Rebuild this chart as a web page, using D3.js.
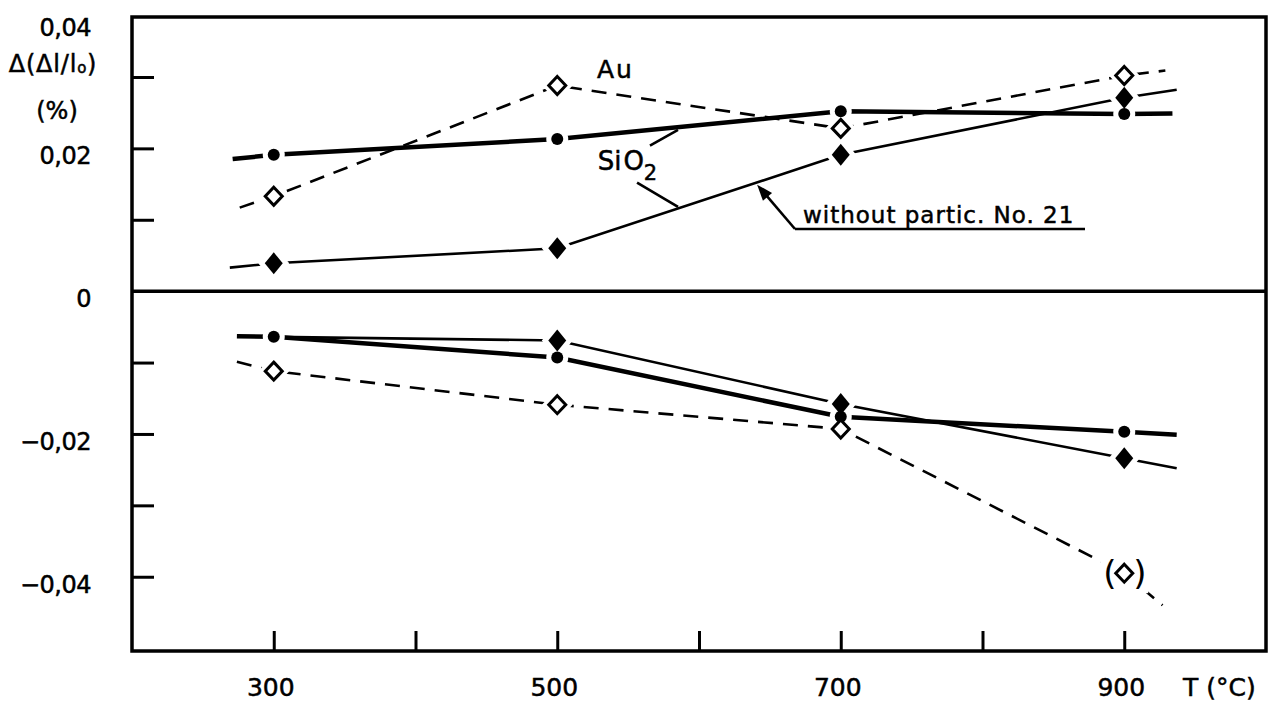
<!DOCTYPE html>
<html>
<head>
<meta charset="utf-8">
<script src="https://cdn.jsdelivr.net/npm/d3@7"></script>
<style>
  body { margin: 0; background: #fff; }
  svg { display: block; }
  text { font-family: "DejaVu Sans", sans-serif; fill: #000; stroke: #000; stroke-width: 0.5px; }
</style>
</head>
<body>
<svg id="chart" width="1274" height="705"></svg>
<script>
// Annealing temperatures (°C)
const temps = [300, 500, 700, 900];

// Δ(Δl/l0) in % — upper group (positive) and lower group (negative)
const sio2Upper    = [0.0191, 0.0213, 0.0252, 0.0248];   // filled circles, heavy line
const auUpper      = [0.0133, 0.0288, 0.0228, 0.0302];   // open diamonds, dashed
const noPartUpper  = [0.0039, 0.0060, 0.0191, 0.0271];   // filled diamonds, thin line

const sio2Lower    = [-0.0064, -0.0093, -0.0176, -0.0197];
const noPartLower  = [-0.0064, -0.0069, -0.0158, -0.0234];
const auLower      = [-0.0112, -0.0159, -0.0193, -0.0395];

// where each drawn line starts and stops beyond the measured points [T, value]
const sio2UpperEnds   = [[271, 0.0185], [934, 0.0249]];
const auUpperEnds     = [[276, 0.0117], [929, 0.0309]];
const noPartUpperEnds = [[269, 0.0033], [937, 0.0282]];
const sio2LowerEnds   = [[274, -0.0063], [937, -0.0201]];
const noPartLowerEnds = [null, [937, -0.0248]];
const auLowerEnds     = [[274, -0.0099], [927, -0.0440]];

// temperatures at which a series has no marker of its own
const noPartLowerHidden = [300];
// the uncertain 900 °C gold point is bracketed
const auLowerBracketed = [900];

// axes
const xTicks = [300, 400, 500, 600, 700, 800, 900];
const xLabelValues = [300, 500, 700, 900];
const yTicks = [0.03, 0.02, 0.01, -0.01, -0.02, -0.03, -0.04];
const yLabelValues = [0.04, 0.02, 0, -0.02, -0.04];
const yLabelTexts  = ["0,04", "0,02", "0", "−0,02", "−0,04"];

const svg = d3.select("#chart");
const plotLeft = 132, plotRight = 1266, plotTop = 17, plotBottom = 651;

const x = d3.scaleLinear().domain([200, 1000]).range([plotLeft, plotRight]);
const y = d3.scaleLinear().domain([-0.0504, 0.0384]).range([plotBottom, plotTop]);

const series = [
  { vals: sio2Upper,   ends: sio2UpperEnds,   marker: "circle",  style: "heavy",  hidden: [] },
  { vals: auUpper,     ends: auUpperEnds,     marker: "open",    style: "dashed", hidden: [] },
  { vals: noPartUpper, ends: noPartUpperEnds, marker: "filled",  style: "thin",   hidden: [] },
  { vals: sio2Lower,   ends: sio2LowerEnds,   marker: "circle",  style: "heavy",  hidden: [] },
  { vals: noPartLower, ends: noPartLowerEnds, marker: "filled",  style: "thin",   hidden: noPartLowerHidden },
  { vals: auLower,     ends: auLowerEnds,     marker: "open",    style: "dashed", hidden: [] }
];

const lineStyles = {
  heavy:  { w: 4.5, dash: null },
  thin:   { w: 2.6, dash: null },
  dashed: { w: 2.6, dash: "15 10" }
};

const line = d3.line().x(d => x(d[0])).y(d => y(d[1]));

// frame
svg.append("rect")
  .attr("x", plotLeft).attr("y", plotTop)
  .attr("width", plotRight - plotLeft).attr("height", plotBottom - plotTop)
  .attr("fill", "none").attr("stroke", "#000").attr("stroke-width", 3.5);

// zero line
svg.append("line")
  .attr("x1", plotLeft).attr("x2", plotRight)
  .attr("y1", y(0)).attr("y2", y(0))
  .attr("stroke", "#000").attr("stroke-width", 3.5);

// inward ticks on the left axis
const yAxis = svg.append("g")
  .attr("transform", `translate(${plotLeft},0)`)
  .call(d3.axisRight(y).tickValues(yTicks).tickSize(22).tickFormat(""));
yAxis.select(".domain").remove();
yAxis.selectAll("line").attr("stroke-width", 3);

// inward ticks on the bottom axis
const xAxis = svg.append("g")
  .attr("transform", `translate(0,${plotBottom})`)
  .call(d3.axisTop(x).tickValues(xTicks).tickSize(20).tickFormat(""));
xAxis.select(".domain").remove();
xAxis.selectAll("line").attr("stroke-width", 3);

// x labels
svg.selectAll(".xlab").data(xLabelValues).enter().append("text")
  .attr("x", d => x(d) - 3).attr("y", 696)
  .attr("text-anchor", "middle").attr("font-size", 25)
  .text(d => d);
svg.append("text").attr("x", 1183).attr("y", 696).attr("font-size", 25)
  .text("T (°C)");

// y labels
svg.selectAll(".ylab").data(yLabelValues).enter().append("text")
  .attr("x", 91)
  .attr("y", d => Math.max(y(d) + 16, 36))
  .attr("text-anchor", "end").attr("font-size", 24)
  .attr("letter-spacing", -0.5)
  .text((d, i) => yLabelTexts[i]);

const yTitle = svg.append("text").attr("x", 53).attr("y", 72)
  .attr("text-anchor", "middle").attr("font-size", 24).attr("letter-spacing", 0.8);
yTitle.append("tspan").text("Δ(Δl/l");
yTitle.append("tspan").attr("font-size", 15).attr("dy", 1).text("o");
yTitle.append("tspan").attr("dy", -1).text(")");
svg.append("text").attr("x", 57).attr("y", 119)
  .attr("text-anchor", "middle").attr("font-size", 24).text("(%)");

// lines
series.forEach(s => {
  const pts = [];
  if (s.ends[0]) pts.push(s.ends[0]);
  temps.forEach((t, i) => pts.push([t, s.vals[i]]));
  if (s.ends[1]) pts.push(s.ends[1]);
  const st = lineStyles[s.style];
  svg.append("path")
    .attr("d", line(pts))
    .attr("fill", "none").attr("stroke", "#000")
    .attr("stroke-width", st.w)
    .attr("stroke-dasharray", st.dash);
});

// markers
function markerPath(type) {
  if (type === "filled") return "M0,-11 L9,0 L0,11 L-9,0 Z";
  if (type === "open") return "M0,-9 L8.5,0 L0,9 L-8.5,0 Z";
  return null;
}
const marks = [];
series.forEach(s => {
  temps.forEach((t, i) => {
    if (s.hidden.includes(t)) return;
    marks.push({ t, v: s.vals[i], type: s.marker });
  });
});
// white halos keep the lines clear of the symbols
[true, false].forEach(halo => {
  marks.forEach(m => {
    const g = svg.append("g").attr("transform", `translate(${x(m.t)},${y(m.v)})`);
    let el;
    if (m.type === "circle") el = g.append("circle").attr("r", 6);
    else el = g.append("path").attr("d", markerPath(m.type));
    if (halo) {
      el.attr("fill", "#fff").attr("stroke", "#fff").attr("stroke-width", 10);
    } else if (m.type === "open") {
      el.attr("fill", "#fff").attr("stroke", "#000").attr("stroke-width", 3).attr("stroke-linejoin", "miter");
    } else {
      el.attr("fill", "#000");
    }
  });
});

// brackets around the uncertain point
auLowerBracketed.forEach(t => {
  const i = temps.indexOf(t);
  const cx = x(t), cy = y(auLower[i]);
  svg.append("rect").attr("x", cx - 24).attr("y", cy - 20).attr("width", 48).attr("height", 40)
    .attr("fill", "#fff");
  svg.append("path").attr("d", markerPath("open"))
    .attr("transform", `translate(${cx},${cy})`)
    .attr("fill", "#fff").attr("stroke", "#000").attr("stroke-width", 3);
  svg.append("text").attr("x", cx - 21).attr("y", cy + 12).attr("font-size", 34)
    .style("stroke-width", 0).text("(");
  svg.append("text").attr("x", cx + 9).attr("y", cy + 12).attr("font-size", 34)
    .style("stroke-width", 0).text(")");
});

// annotations
svg.append("text").attr("x", x(528)).attr("y", y(0.0299))
  .attr("font-size", 25).attr("letter-spacing", 2).text("Au");

const sio2 = svg.append("text").attr("x", x(528.5)).attr("y", y(0.0170)).attr("font-size", 26);
sio2.append("tspan").text("Si");
sio2.append("tspan").attr("dx", 2).text("O");
sio2.append("tspan").attr("font-size", 21).attr("dy", 10).text("2");

svg.append("line")
  .attr("x1", x(565.4)).attr("y1", y(0.0204)).attr("x2", x(585.2)).attr("y2", y(0.0226))
  .attr("stroke", "#000").attr("stroke-width", 2.6);
svg.append("line")
  .attr("x1", x(556.3)).attr("y1", y(0.0152)).attr("x2", x(585.2)).attr("y2", y(0.0118))
  .attr("stroke", "#000").attr("stroke-width", 2.6);

svg.append("text").attr("x", 803).attr("y", 223)
  .attr("font-size", 23).attr("letter-spacing", 1).text("without partic. No. 21");
svg.append("line").attr("x1", 795).attr("x2", 1085).attr("y1", 229).attr("y2", 229)
  .attr("stroke", "#000").attr("stroke-width", 2.6);
// arrow to the particle-free curve
const tipX = x(641), tipY = y(0.0152) + 2;
svg.append("line").attr("x1", 795).attr("y1", 229).attr("x2", tipX + 6).attr("y2", tipY + 7)
  .attr("stroke", "#000").attr("stroke-width", 2.6);
const ang = Math.atan2(229 - tipY, 795 - tipX);
const hl = 16, hw = 6;
const bx = tipX + hl * Math.cos(ang), by = tipY + hl * Math.sin(ang);
svg.append("path")
  .attr("d", `M${tipX},${tipY} L${bx - hw * Math.sin(ang)},${by + hw * Math.cos(ang)} L${bx + hw * Math.sin(ang)},${by - hw * Math.cos(ang)} Z`)
  .attr("fill", "#000");
</script>
</body>
</html>
